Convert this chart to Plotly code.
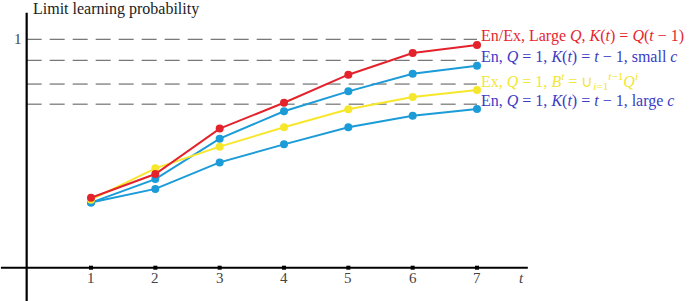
import plotly.graph_objects as go

t_vals = [1, 2, 3, 4, 5, 6, 7]
tick_labels = ["1", "2", "3", "4", "5", "6", "7"]

red_vals = [0.306, 0.410, 0.609, 0.722, 0.845, 0.940, 0.975]
cyan_small_c = [0.285, 0.388, 0.565, 0.685, 0.772, 0.849, 0.884]
yellow_vals = [0.298, 0.435, 0.530, 0.615, 0.694, 0.747, 0.778]
cyan_large_c = [0.285, 0.345, 0.461, 0.540, 0.615, 0.665, 0.695]

limit_levels = [1.0, 0.908, 0.804, 0.716]
limit_labels = [
    "En/Ex, Large <i>Q</i>, <i>K</i>(<i>t</i>) = <i>Q</i>(<i>t</i> − 1)",
    "En, <i>Q</i> = 1, <i>K</i>(<i>t</i>) = <i>t</i> − 1, small <i>c</i>",
    "Ex, <i>Q</i> = 1, <i>B<sup>t</sup></i> = ∪<sub><i>i</i>=1</sub><sup><i>t</i>−1</sup><i>Q<sup>i</sup></i>",
    "En, <i>Q</i> = 1, <i>K</i>(<i>t</i>) = <i>t</i> − 1, large <i>c</i>",
]
label_colors = ["#e5262f", "#3b3bc4", "#f2e634", "#3b3bc4"]

RED = "#e3222c"
CYAN = "#1b9bd7"
YELLOW = "#f7e72c"
FONT = "Liberation Serif"

fig = go.Figure()

for vals, col in [(cyan_large_c, CYAN), (cyan_small_c, CYAN), (yellow_vals, YELLOW), (red_vals, RED)]:
    fig.add_trace(go.Scatter(
        x=t_vals, y=vals, mode="lines+markers",
        line=dict(color=col, width=2),
        marker=dict(color=col, size=8),
        showlegend=False, hoverinfo="skip",
    ))

# dashed limit lines
for lv in limit_levels:
    fig.add_shape(type="line", x0=0, x1=7.0, y0=lv, y1=lv,
                  line=dict(color="#555555", width=1, dash="15px,8px"), layer="below")

# axes
fig.add_shape(type="line", x0=-0.40, x1=7.79, y0=0, y1=0, line=dict(color="black", width=2))
fig.add_shape(type="line", x0=0, x1=0, y0=-0.15, y1=1.116, line=dict(color="black", width=2.2))

# tick marks
fig.add_trace(go.Scatter(x=t_vals, y=[0] * len(t_vals), mode="markers",
                         marker=dict(color="black", size=4, symbol="square"),
                         showlegend=False, hoverinfo="skip"))

for tv, tl in zip(t_vals, tick_labels):
    fig.add_annotation(x=tv, y=-0.043, text=tl, showarrow=False,
                       font=dict(family=FONT, size=15, color="#444444"),
                       xanchor="center", yanchor="middle")
fig.add_annotation(x=7.69, y=-0.043, text="<i>t</i>", showarrow=False,
                   font=dict(family=FONT, size=15, color="#444444"),
                   xanchor="center", yanchor="middle")
fig.add_annotation(x=-0.13, y=1.0, text="1", showarrow=False,
                   font=dict(family=FONT, size=15, color="#444444"),
                   xanchor="center", yanchor="middle")
fig.add_annotation(x=0.07, y=1.133, text="Limit learning probability", showarrow=False,
                   font=dict(family=FONT, size=16, color="#222222"),
                   xanchor="left", yanchor="middle")

for lv, lt, lc in zip(limit_levels, limit_labels, label_colors):
    fig.add_annotation(x=7.03, y=lv + 0.014, text=lt, showarrow=False,
                       font=dict(family=FONT, size=16, color=lc),
                       xanchor="left", yanchor="middle")

fig.update_layout(
    width=692, height=301,
    margin=dict(l=0, r=0, t=0, b=0),
    paper_bgcolor="white", plot_bgcolor="white",
    xaxis=dict(range=[-0.4146, 10.342], visible=False, fixedrange=True),
    yaxis=dict(range=[-0.1458, 1.172], visible=False, fixedrange=True),
)

fig.write_html("out.html", config={"displayModeBar": False},
               post_script="document.body.style.margin='0';")
